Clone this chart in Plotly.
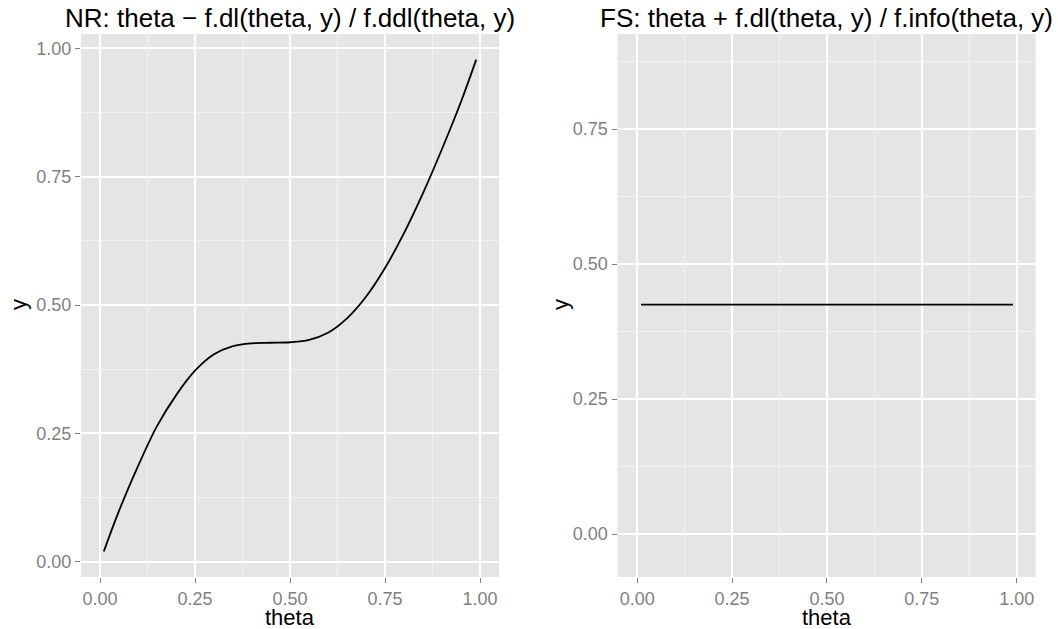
import plotly.graph_objects as go

# NR panel: curve
nr_theta = [0.01, 0.05, 0.10, 0.15, 0.20, 0.25, 0.30, 0.35, 0.40, 0.45, 0.50,
            0.55, 0.60, 0.65, 0.70, 0.75, 0.80, 0.85, 0.90, 0.95, 0.99]
nr_y = [0.020, 0.099, 0.186, 0.264, 0.324, 0.372, 0.404, 0.420, 0.4255, 0.4265, 0.4275,
        0.432, 0.446, 0.474, 0.516, 0.572, 0.640, 0.718, 0.804, 0.896, 0.978]

# FS panel: constant line
fs_theta = [0.01, 0.99]
fs_y = [0.425, 0.425]

x_ticks = [0.0, 0.25, 0.5, 0.75, 1.0]
x_ticklabels = ["0.00", "0.25", "0.50", "0.75", "1.00"]
nr_yticks = [0.0, 0.25, 0.5, 0.75, 1.0]
nr_yticklabels = ["0.00", "0.25", "0.50", "0.75", "1.00"]
fs_yticks = [0.0, 0.25, 0.5, 0.75]
fs_yticklabels = ["0.00", "0.25", "0.50", "0.75"]

titles = ["NR: theta \u2212 f.dl(theta, y) / f.ddl(theta, y)",
          "FS: theta + f.dl(theta, y) / f.info(theta, y)"]

W, H = 1058, 629
FONT = "Liberation Sans, Arial, Helvetica, sans-serif"
TICKC = "#7F7F7F"
TICKF = 18

fig = go.Figure()
fig.add_trace(go.Scatter(x=nr_theta, y=nr_y, mode="lines",
                         line=dict(color="black", width=1.8, shape="spline", smoothing=1.0),
                         xaxis="x", yaxis="y", showlegend=False))
fig.add_trace(go.Scatter(x=fs_theta, y=fs_y, mode="lines", line=dict(color="black", width=1.8),
                         xaxis="x2", yaxis="y2", showlegend=False))

dom_l = [81 / W, 499 / W]
dom_r = [617.5 / W, 1035.7 / W]
dom_y = [(H - 577) / H, (H - 34) / H]

def axis_common(tickvals, ticktext, rng, dom, anchor):
    return dict(
        domain=dom, anchor=anchor, range=rng, tickvals=tickvals, ticktext=ticktext,
        ticks="outside", ticklen=5, tickwidth=1.2, tickcolor=TICKC,
        tickfont=dict(family=FONT, size=TICKF, color=TICKC),
        showgrid=True, gridcolor="white", gridwidth=1.5,
        zeroline=False, showline=False, fixedrange=True,
        minor=dict(showgrid=True, gridcolor="#F2F2F2", gridwidth=0.8, ticks="",
                   tick0=0.125, dtick=0.25),
    )

fig.update_layout(
    width=W, height=H,
    margin=dict(l=0, r=0, t=0, b=0),
    paper_bgcolor="white", plot_bgcolor="#E5E5E5",
    xaxis=axis_common(x_ticks, x_ticklabels, [-0.05, 1.05], dom_l, "y"),
    yaxis=axis_common(nr_yticks, nr_yticklabels, [-0.0298, 1.028], dom_y, "x"),
    xaxis2=axis_common(x_ticks, x_ticklabels, [-0.052, 1.05], dom_r, "y2"),
    yaxis2=axis_common(fs_yticks, fs_yticklabels, [-0.0796, 0.926], dom_y, "x2"),
)

ann = []
for dom, t in zip([dom_l, dom_r], titles):
    cx = (dom[0] + dom[1]) / 2
    ann.append(dict(text=t, x=cx, y=(H - 18) / H, xref="paper", yref="paper",
                    xanchor="center", yanchor="middle", showarrow=False,
                    font=dict(family=FONT, size=26, color="black")))
    ann.append(dict(text="theta", x=cx, y=(H - 617) / H, xref="paper", yref="paper",
                    xanchor="center", yanchor="middle", showarrow=False,
                    font=dict(family=FONT, size=22, color="black")))
for xpx in [18, 560]:
    ann.append(dict(text="y", x=xpx / W, y=(H - 305) / H, xref="paper", yref="paper",
                    xanchor="center", yanchor="middle", showarrow=False, textangle=-90,
                    font=dict(family=FONT, size=22, color="black")))
fig.update_layout(annotations=ann)

fig.write_html("out.html", config=dict(displayModeBar=False),
               post_script="document.body.style.margin='0';document.body.style.padding='0';")
